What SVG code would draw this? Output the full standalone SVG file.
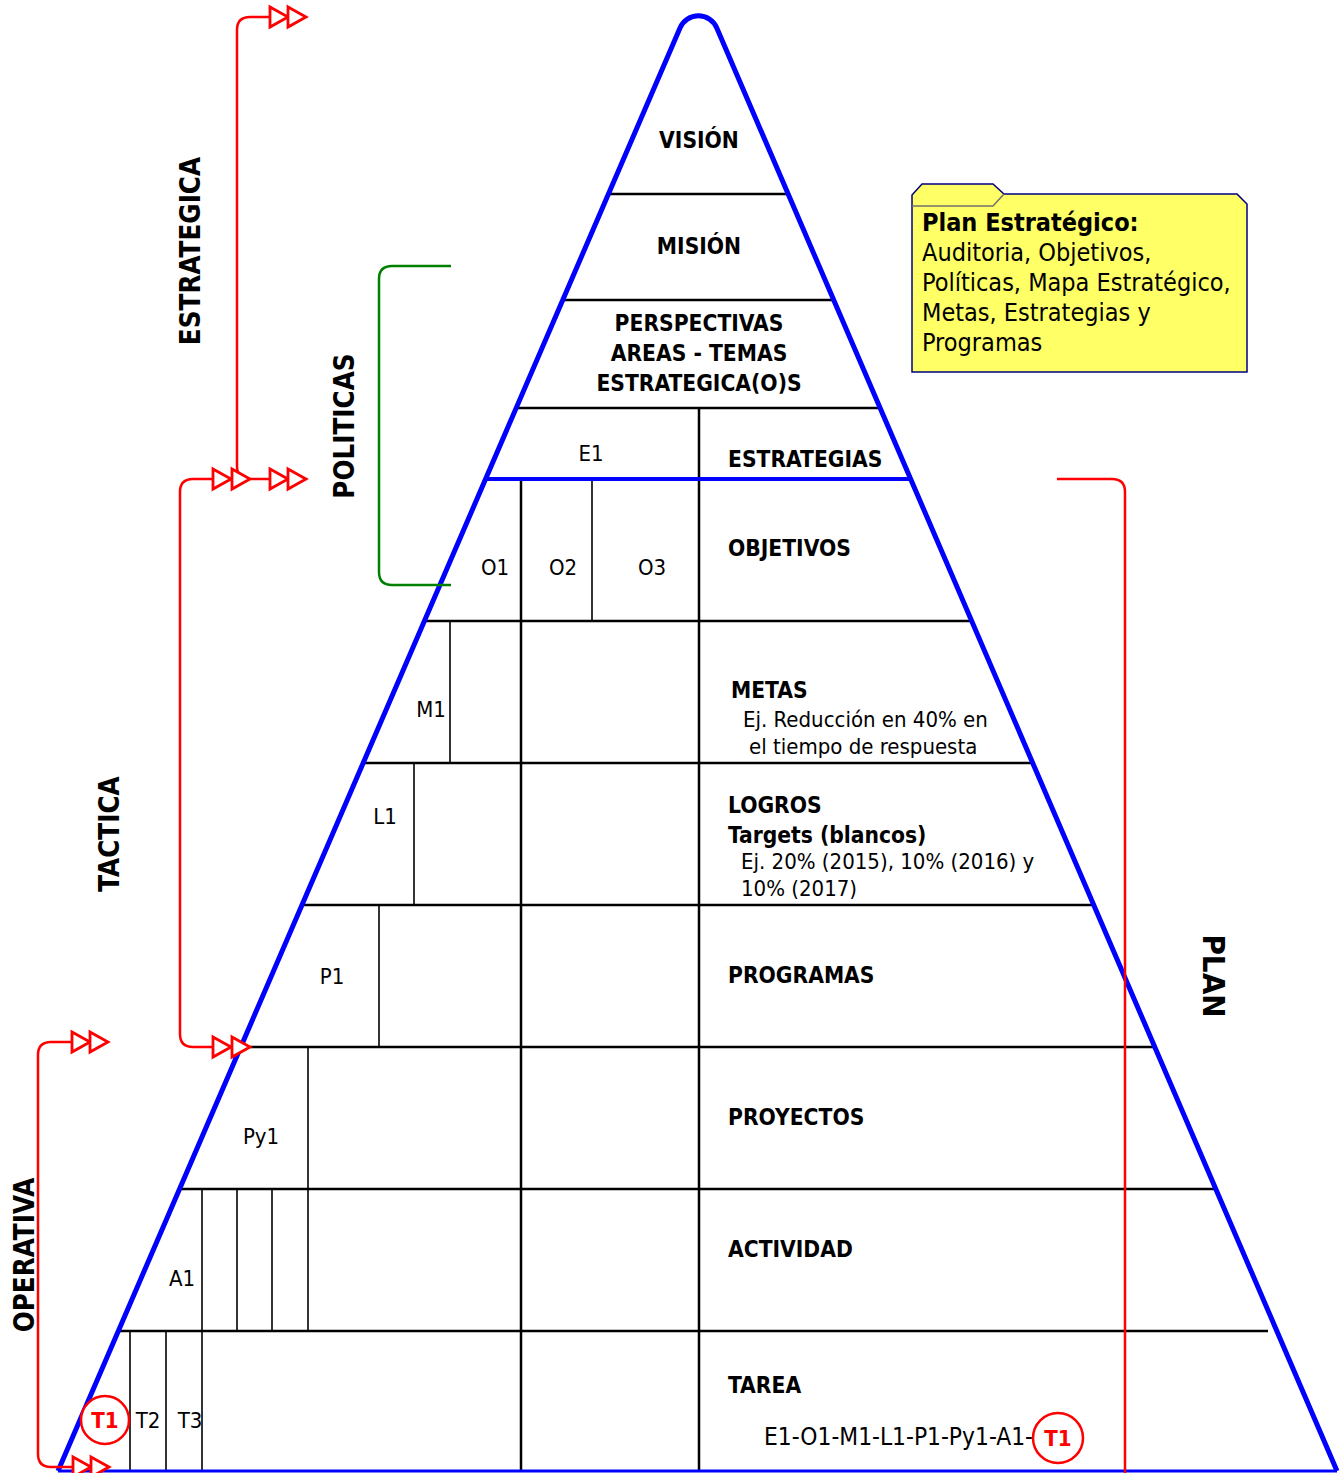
<svg xmlns="http://www.w3.org/2000/svg" width="1341" height="1473" viewBox="0 0 1341 1473">
<style>
text{font-family:"DejaVu Sans Condensed","DejaVu Sans",sans-serif;font-stretch:condensed;fill:#000}
.b{font-weight:bold;font-size:22.6px}
.n{font-size:22px}
.m{text-anchor:middle}
.side{font-weight:bold;font-size:27.5px;text-anchor:middle}
.bl{stroke:#000;stroke-width:2.5;fill:none}
.th{stroke:#000;stroke-width:1.6;fill:none}
.red{stroke:#f00;stroke-width:2.5;fill:none}
.grn{stroke:#008000;stroke-width:2.5;fill:none}
.ah{fill:#fff;stroke:#f00;stroke-width:2.8}
.blue{stroke:#00f;fill:none}
.rt{fill:#f00;font-weight:bold;font-size:22px;text-anchor:middle}
</style>
<defs>
<polygon id="tri" points="0,-10 18,0 0,10" class="ah"/>
</defs>

<g id="grid">
<line class="bl" x1="608" y1="194" x2="788" y2="194"/>
<line class="bl" x1="563" y1="300" x2="834" y2="300"/>
<line class="bl" x1="516" y1="408" x2="880" y2="408"/>
<line class="bl" x1="424" y1="621" x2="972" y2="621"/>
<line class="bl" x1="363" y1="763" x2="1033" y2="763"/>
<line class="bl" x1="302" y1="905" x2="1094" y2="905"/>
<line class="bl" x1="241" y1="1047" x2="1155" y2="1047"/>
<line class="bl" x1="180" y1="1189" x2="1216" y2="1189"/>
<line class="bl" x1="118" y1="1331" x2="1268" y2="1331"/>
<line class="bl" x1="521" y1="479" x2="521" y2="1471"/>
<line class="bl" x1="699" y1="408" x2="699" y2="1471"/>
<line class="th" x1="592" y1="479" x2="592" y2="621"/>
<line class="th" x1="450" y1="621" x2="450" y2="763"/>
<line class="th" x1="414" y1="763" x2="414" y2="905"/>
<line class="th" x1="379" y1="905" x2="379" y2="1047"/>
<line class="th" x1="308" y1="1047" x2="308" y2="1331"/>
<line class="th" x1="202" y1="1189" x2="202" y2="1471"/>
<line class="th" x1="237" y1="1189" x2="237" y2="1331"/>
<line class="th" x1="272" y1="1189" x2="272" y2="1331"/>
<line class="th" x1="130" y1="1331" x2="130" y2="1471"/>
<line class="th" x1="166" y1="1331" x2="166" y2="1471"/>
</g>

<g id="pyramid">
<path class="blue" stroke-width="5" d="M58 1471 L680 28 A20 20 0 0 1 716.8 28 L1337 1471"/>
<line class="blue" stroke-width="4" x1="486" y1="479" x2="911" y2="479"/>
<line class="blue" stroke-width="3" x1="58" y1="1471" x2="1337" y2="1471"/>
</g>

<g id="connectors">
<path class="red" d="M250 479 Q237 479 237 466 L237 30 Q237 17 250 17 L270 17"/>
<path class="red" d="M213 479 L193 479 Q180 479 180 492 L180 1034 Q180 1047 193 1047 L213 1047"/>
<line class="red" x1="250" y1="479" x2="270" y2="479"/>
<path class="red" d="M72 1042 L51 1042 Q38 1042 38 1055 L38 1454 Q38 1467 51 1467 L73 1467"/>
<path class="red" d="M1057 479 L1112 479 Q1125 479 1125 492 L1125 1473"/>
<path class="grn" d="M451 266 L392 266 Q379 266 379 279 L379 572 Q379 585 392 585 L451 585"/>
<use href="#tri" x="270" y="17"/><use href="#tri" x="288" y="17"/>
<use href="#tri" x="213" y="479"/><use href="#tri" x="232" y="479"/>
<use href="#tri" x="270" y="479"/><use href="#tri" x="288" y="479"/>
<use href="#tri" x="213" y="1047"/><use href="#tri" x="232" y="1047"/>
<use href="#tri" x="72" y="1042"/><use href="#tri" x="90" y="1042"/>
<use href="#tri" x="73" y="1467"/><use href="#tri" x="91" y="1467"/>
</g>

<g id="labels">
<text class="b m" x="699" y="148">VISIÓN</text>
<text class="b m" x="699" y="254">MISIÓN</text>
<text class="b m" x="699" y="331">PERSPECTIVAS</text>
<text class="b m" x="699" y="361">AREAS - TEMAS</text>
<text class="b m" x="699" y="391">ESTRATEGICA(O)S</text>
<text class="n m" x="591" y="461">E1</text>
<text class="b" x="728" y="467">ESTRATEGIAS</text>
<text class="n m" x="495" y="575">O1</text>
<text class="n m" x="563" y="575">O2</text>
<text class="n m" x="652" y="575">O3</text>
<text class="b" x="728" y="556">OBJETIVOS</text>
<text class="n m" x="431" y="717">M1</text>
<text class="b" x="731" y="698">METAS</text>
<text class="n" x="743" y="727">Ej. Reducción en 40% en</text>
<text class="n" x="749" y="754">el tiempo de respuesta</text>
<text class="n m" x="385" y="824">L1</text>
<text class="b" x="728" y="813">LOGROS</text>
<text class="b" x="728" y="843">Targets (blancos)</text>
<text class="n" x="741" y="869">Ej. 20% (2015), 10% (2016) y</text>
<text class="n" x="741" y="896">10% (2017)</text>
<text class="n m" x="332" y="984">P1</text>
<text class="b" x="728" y="983">PROGRAMAS</text>
<text class="n m" x="261" y="1144">Py1</text>
<text class="b" x="728" y="1125">PROYECTOS</text>
<text class="n m" x="182" y="1286">A1</text>
<text class="b" x="728" y="1257">ACTIVIDAD</text>
<text class="n m" x="148" y="1428">T2</text>
<text class="n m" x="190" y="1428">T3</text>
<text class="b" x="728" y="1393">TAREA</text>
<text class="n" x="764" y="1445" style="font-size:24.3px">E1-O1-M1-L1-P1-Py1-A1-</text>
</g>

<g id="t1-left">
<circle cx="105" cy="1420" r="24" fill="#fff" stroke="#f00" stroke-width="2.5"/>
<text class="rt" x="105" y="1428">T1</text>
</g>
<g id="t1-right">
<circle cx="1058" cy="1438" r="25" fill="#fff" stroke="#f00" stroke-width="2.5"/>
<text class="rt" x="1058" y="1446">T1</text>
</g>

<g id="side-labels">
<text class="side" transform="translate(200 251) rotate(-90)">ESTRATEGICA</text>
<text class="side" transform="translate(354 426) rotate(-90)">POLITICAS</text>
<text class="side" transform="translate(119 834) rotate(-90)">TACTICA</text>
<text class="side" transform="translate(34 1255) rotate(-90)">OPERATIVA</text>
<text class="side" style="font-size:31px" transform="translate(1203 976) rotate(90)">PLAN</text>
</g>

<g id="note">
<polygon points="912,372 912,195 922,184 993,184 1004,194 1237,194 1247,204 1247,372" fill="#ffff66" stroke="#000080" stroke-width="1.5"/>
<polyline points="912,206 993,206 1004,194" fill="none" stroke="#707070" stroke-width="1.5"/>
<text x="922" y="231" style="font-size:25px;font-weight:bold">Plan Estratégico:</text>
<text x="922" y="261" style="font-size:25px">Auditoria, Objetivos,</text>
<text x="922" y="291" style="font-size:25px">Políticas, Mapa Estratégico,</text>
<text x="922" y="321" style="font-size:25px">Metas, Estrategias y</text>
<text x="922" y="351" style="font-size:25px">Programas</text>
</g>
</svg>
